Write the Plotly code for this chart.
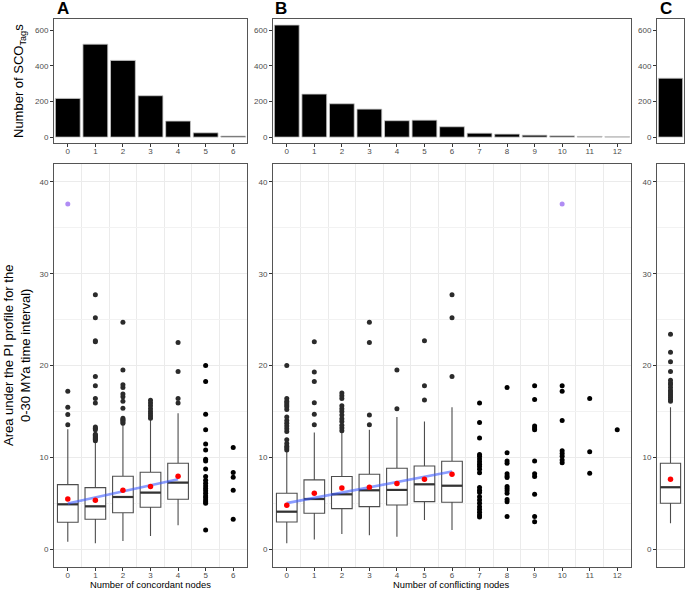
import plotly.graph_objects as go

# ---------------- data ----------------
cats_A = [0, 1, 2, 3, 4, 5, 6]
cats_B = [0, 1, 2, 3, 4, 5, 6, 7, 8, 9, 10, 11, 12]
cats_C = [0]

counts_A = [217, 521, 430, 232, 90, 24, 6]
counts_B = [628, 241, 187, 157, 92, 95, 58, 22, 17, 11, 7, 4, 2]
counts_C = [330]

# box statistics (panel A, categories 0-4)
boxA_x = [0, 1, 2, 3, 4]
boxA_q1 = [2.91, 3.24, 3.96, 4.55, 5.42]
boxA_med = [4.87, 4.65, 5.67, 6.15, 7.24]
boxA_q3 = [7.02, 6.69, 7.93, 8.36, 9.35]
boxA_lo = [0.8, 0.62, 0.87, 1.42, 2.58]
boxA_hi = [13.05, 11.6, 13.6, 14.07, 14.8]
boxA_mean = [5.45, 5.31, 6.4, 6.8, 7.93]

outA = {
    0: [13.55, 14.65, 15.45, 17.2],
    1: [11.8, 11.95, 12.05, 12.15, 12.25, 12.4, 12.5, 13.0, 13.15, 13.3, 15.9, 16.4, 17.8, 18.8, 22.6, 22.7, 25.2, 27.7],
    2: [13.7, 13.85, 14.0, 14.1, 14.25, 15.35, 16.1, 16.6, 16.9, 17.6, 17.9, 19.5, 24.7],
    3: [14.25, 14.5, 14.75, 15.0, 15.3, 15.6, 15.9, 16.2],
    4: [15.9, 16.4, 19.35, 22.5],
}
ptsA = {
    5: [2.07, 4.98, 5.15, 5.35, 5.6, 5.78, 6.07, 6.36, 6.6, 6.87, 7.16, 7.5, 7.9, 8.73, 9.6, 9.78, 10.8, 11.45, 13.0, 14.7, 18.25, 20.0],
    6: [3.24, 6.4, 7.82, 8.33, 11.05],
}
highlight_A_x = [0]
highlight_A_y = [37.6]
fitA_x = [0, 4]
fitA_y = [4.95, 7.6]

# panel B, categories 0-6
boxB_x = [0, 1, 2, 3, 4, 5, 6]
boxB_q1 = [2.95, 3.89, 4.4, 4.62, 4.8, 5.16, 5.09]
boxB_med = [4.07, 5.45, 5.96, 6.4, 6.44, 7.05, 6.9]
boxB_q3 = [6.07, 7.53, 7.9, 8.15, 8.8, 9.05, 9.56]
boxB_lo = [0.62, 1.05, 1.64, 1.49, 1.35, 3.16, 2.07]
boxB_hi = [10.6, 12.7, 12.8, 13.0, 14.4, 13.9, 15.45]
boxB_mean = [4.76, 6.07, 6.65, 6.73, 7.13, 7.6, 8.15]

outB = {
    0: [10.8, 11.0, 11.2, 11.5, 11.9, 12.8, 13.1, 13.4, 13.7, 14.0, 14.4, 15.2, 15.5, 15.7, 15.9, 16.1, 16.4, 20.0],
    1: [13.55, 14.7, 15.95, 18.25, 19.3, 22.6],
    2: [12.9, 13.2, 13.5, 13.9, 14.2, 14.6, 15.0, 15.3, 15.6, 16.4, 16.7, 17.0],
    3: [13.55, 14.6, 22.5, 24.7],
    4: [15.3, 19.5],
    5: [16.25, 17.8, 22.7],
    6: [18.8, 25.2, 27.7],
}
ptsB = {
    7: [3.5, 3.7, 4.0, 4.3, 4.6, 5.0, 5.35, 5.7, 6.15, 6.4, 6.7, 8.3, 8.7, 9.0, 9.25, 9.5, 9.8, 10.1, 10.3, 12.1, 13.8, 15.9],
    8: [3.53, 5.16, 5.4, 6.07, 6.36, 6.6, 6.8, 7.8, 7.96, 8.2, 9.35, 9.6, 10.5, 17.6],
    9: [2.98, 3.53, 5.96, 7.9, 8.2, 9.6, 13.0, 13.2, 13.4, 16.3, 17.8],
    10: [9.4, 9.7, 10.1, 10.4, 10.7, 14.0, 17.2, 17.8],
    11: [8.25, 10.6, 16.4],
    12: [13.0],
}
highlight_B_x = [10]
highlight_B_y = [37.6]
fitB_x = [0, 6]
fitB_y = [5.0, 8.44]

# panel C
boxC_x = [0]
boxC_q1 = [4.98]
boxC_med = [6.73]
boxC_q3 = [9.35]
boxC_lo = [2.8]
boxC_hi = [15.45]
boxC_mean = [7.6]
outC = {0: [16.1, 16.3, 16.5, 16.7, 16.9, 17.1, 17.3, 17.6, 17.9, 18.1, 18.4, 19.35, 20.4, 21.45, 23.4]}

# ---------------- styling ----------------
FONT = "Liberation Sans, Arial, Helvetica, sans-serif"
W, H = 685, 590
BOXW = 0.75
BOX_LINE = "#4d4d4d"
PT_COL = "#2b2b2b"


def px_x(a, b):
    return [a / W, b / W]


def px_y(top, bottom):
    return [1 - bottom / H, 1 - top / H]


dom_top = px_y(19, 143)
dom_bot = px_y(164, 567)
dom_A = px_x(54, 247)
dom_B = px_x(273, 631)
dom_C = px_x(657, 684)

fig = go.Figure()


def add_bars(cats, counts, xa, ya):
    fig.add_trace(go.Bar(x=cats, y=counts, xaxis=xa, yaxis=ya, width=0.9,
                         marker=dict(color="black", line=dict(color="#c8c8c8", width=0.8)),
                         showlegend=False, hoverinfo="x+y"))


add_bars(cats_A, counts_A, "x", "y")
add_bars(cats_B, counts_B, "x2", "y2")
add_bars(cats_C, counts_C, "x3", "y3")


def add_panel(xa, ya, bx, q1, med, q3, lo, hi, mean, outs, pts, fit_x, fit_y, hx, hy):
    fig.add_trace(go.Box(x=bx, q1=q1, median=med, q3=q3, lowerfence=lo, upperfence=hi,
                         xaxis=xa, yaxis=ya, width=BOXW, whiskerwidth=0,
                         fillcolor="white", line=dict(color=BOX_LINE, width=1.1),
                         boxpoints=False, showlegend=False))
    # thicker median bars (ggplot fatten)
    mx, my = [], []
    for xi, m in zip(bx, med):
        mx += [xi - BOXW / 2, xi + BOXW / 2, None]
        my += [m, m, None]
    fig.add_trace(go.Scatter(x=mx, y=my, xaxis=xa, yaxis=ya, mode="lines",
                             line=dict(color="#333333", width=2.2), showlegend=False,
                             hoverinfo="skip"))
    # outliers
    ox, oy = [], []
    for k, vals in outs.items():
        ox += [k] * len(vals)
        oy += vals
    fig.add_trace(go.Scatter(x=ox, y=oy, xaxis=xa, yaxis=ya, mode="markers",
                             marker=dict(color=PT_COL, size=5), showlegend=False))
    if pts:
        px_, py_ = [], []
        for k, vals in pts.items():
            px_ += [k] * len(vals)
            py_ += vals
        fig.add_trace(go.Scatter(x=px_, y=py_, xaxis=xa, yaxis=ya, mode="markers",
                                 marker=dict(color="black", size=5), showlegend=False))
    if fit_x:
        fig.add_trace(go.Scatter(x=fit_x, y=fit_y, xaxis=xa, yaxis=ya, mode="lines",
                                 line=dict(color="rgba(60,90,255,0.6)", width=2.6),
                                 showlegend=False))
    fig.add_trace(go.Scatter(x=bx, y=mean, xaxis=xa, yaxis=ya, mode="markers",
                             marker=dict(color="#ff0000", size=5.5), showlegend=False))
    if hx:
        fig.add_trace(go.Scatter(x=hx, y=hy, xaxis=xa, yaxis=ya, mode="markers",
                                 marker=dict(color="#b08cf4", size=5), showlegend=False))


add_panel("x4", "y4", boxA_x, boxA_q1, boxA_med, boxA_q3, boxA_lo, boxA_hi, boxA_mean,
          outA, ptsA, fitA_x, fitA_y, highlight_A_x, highlight_A_y)
add_panel("x5", "y5", boxB_x, boxB_q1, boxB_med, boxB_q3, boxB_lo, boxB_hi, boxB_mean,
          outB, ptsB, fitB_x, fitB_y, highlight_B_x, highlight_B_y)
add_panel("x6", "y6", boxC_x, boxC_q1, boxC_med, boxC_q3, boxC_lo, boxC_hi, boxC_mean,
          outC, None, None, None, None, None)

tickfont = dict(family=FONT, size=8, color="#4d4d4d")
axis_common = dict(showline=True, mirror=True, linecolor="#555555", linewidth=1,
                   ticks="outside", ticklen=3, tickcolor="#333333", tickwidth=0.8,
                   tickfont=tickfont, zeroline=False, fixedrange=True)


def xaxis(dom, cats, anchor, labels=True, grid=False):
    d = dict(axis_common, domain=dom, anchor=anchor,
             range=[cats[0] - 0.5, cats[-1] + 0.5], tickmode="array",
             tickvals=cats, ticktext=[str(c) for c in cats], showgrid=False,
             showticklabels=labels, ticklabelstandoff=-3)
    if not labels:
        d["ticks"] = ""
    if grid:
        d["minor"] = dict(tickmode="linear", tick0=0.5, dtick=1, showgrid=True,
                          gridcolor="#ebebeb", gridwidth=1, ticks="")
    return d


def yaxis_top(dom, anchor):
    return dict(axis_common, domain=dom, anchor=anchor, range=[-33, 662],
                tickmode="array", tickvals=[0, 200, 400, 600], showgrid=False)


def yaxis_bot(dom, anchor):
    return dict(axis_common, domain=dom, anchor=anchor, range=[-1.96, 41.96],
                tickmode="array", tickvals=[0, 10, 20, 30, 40], showgrid=True,
                gridcolor="#ebebeb", gridwidth=1,
                minor=dict(tickmode="array", tickvals=[5, 15, 25, 35], showgrid=True,
                           gridcolor="#f2f2f2", gridwidth=0.8, ticks=""))


layout = dict(
    width=W, height=H, margin=dict(l=0, r=0, t=0, b=0),
    paper_bgcolor="white", plot_bgcolor="white",
    font=dict(family=FONT, color="black"),
    showlegend=False, bargap=0.1,
    xaxis=xaxis(dom_A, cats_A, "y"),
    xaxis2=xaxis(dom_B, cats_B, "y2"),
    xaxis3=xaxis(dom_C, cats_C, "y3", labels=False),
    xaxis4=xaxis(dom_A, cats_A, "y4", grid=True),
    xaxis5=xaxis(dom_B, cats_B, "y5", grid=True),
    xaxis6=xaxis(dom_C, cats_C, "y6", labels=False),
    yaxis=yaxis_top(dom_top, "x"),
    yaxis2=yaxis_top(dom_top, "x2"),
    yaxis3=yaxis_top(dom_top, "x3"),
    yaxis4=yaxis_bot(dom_bot, "x4"),
    yaxis5=yaxis_bot(dom_bot, "x5"),
    yaxis6=yaxis_bot(dom_bot, "x6"),
)
fig.update_layout(**layout)

ann = []
for letter, xpx in [("A", 55), ("B", 273), ("C", 658)]:
    ann.append(dict(text="<b>" + letter + "</b>", x=xpx / W, y=1 - 9 / H, xref="paper",
                    yref="paper", xanchor="left", yanchor="middle", showarrow=False,
                    font=dict(family=FONT, size=17, color="black")))
ann.append(dict(text="Number of SCO<sub>Tag</sub>s", x=20 / W, y=1 - 81 / H,
                xref="paper", yref="paper", textangle=-90, showarrow=False,
                xanchor="center", yanchor="middle",
                font=dict(family=FONT, size=13, color="black")))
ann.append(dict(text="Area under the PI profile for the<br>0-30 MYa time interval)",
                x=17 / W, y=1 - 356 / H, xref="paper", yref="paper", textangle=-90,
                showarrow=False, xanchor="center", yanchor="middle",
                font=dict(family=FONT, size=13, color="black")))
ann.append(dict(text="Number of concordant nodes", x=150.5 / W, y=1 - 584 / H,
                xref="paper", yref="paper", showarrow=False, xanchor="center",
                yanchor="middle", font=dict(family=FONT, size=9.4, color="black")))
ann.append(dict(text="Number of conflicting nodes", x=452 / W, y=1 - 584 / H,
                xref="paper", yref="paper", showarrow=False, xanchor="center",
                yanchor="middle", font=dict(family=FONT, size=9.4, color="black")))
fig.update_layout(annotations=ann)

fig.write_html("out.html", config={"displayModeBar": False},
               post_script="document.body.style.margin='0';document.body.style.padding='0';")
